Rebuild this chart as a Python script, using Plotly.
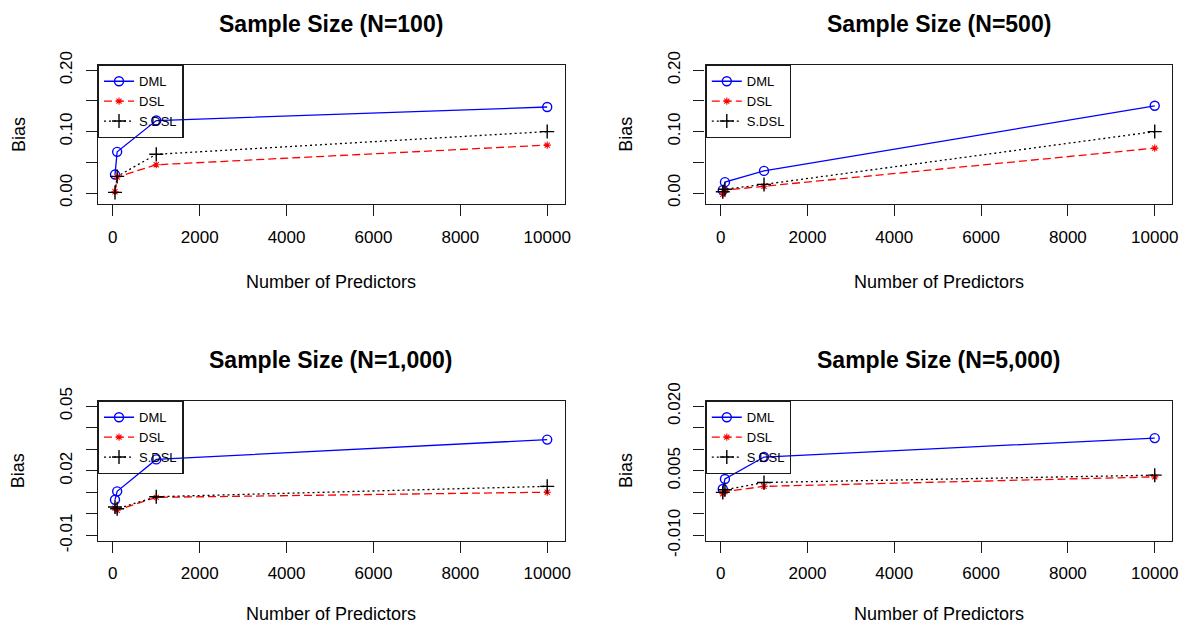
import plotly.graph_objects as go

# ---------------- data ----------------
predictors = [50, 100, 1000, 10000]

panel_titles = ["Sample Size (N=100)", "Sample Size (N=500)",
                "Sample Size (N=1,000)", "Sample Size (N=5,000)"]

dml_n100 = [0.030, 0.067, 0.118, 0.140]
dsl_n100 = [0.002, 0.026, 0.046, 0.078]
sdsl_n100 = [0.001, 0.027, 0.063, 0.100]

dml_n500 = [0.0046, 0.0177, 0.036, 0.142]
dsl_n500 = [-0.002, 0.0046, 0.011, 0.073]
sdsl_n500 = [0.002, 0.006, 0.014, 0.100]

dml_n1000 = [0.0066, 0.0105, 0.0253, 0.0345]
dsl_n1000 = [0.0027, 0.0017, 0.0077, 0.0101]
sdsl_n1000 = [0.0032, 0.0024, 0.0080, 0.0128]

dml_n5000 = [0.0008, 0.0031, 0.0082, 0.0126]
dsl_n5000 = [-0.0003, 0.0002, 0.0014, 0.0036]
sdsl_n5000 = [0.0000, 0.0006, 0.0023, 0.0040]

series_names = ["DML", "DSL", "S.DSL"]

x_tickvals = [0, 2000, 4000, 6000, 8000, 10000]
x_ticktext = ["0", "2000", "4000", "6000", "8000", "10000"]

y_tickvals_big = [0.0, 0.05, 0.10, 0.15, 0.20]
y_ticktext_big = ["0.00", "", "0.10", "", "0.20"]
y_tickvals_n1000 = [-0.01, 0.0, 0.01, 0.02, 0.03, 0.04, 0.05]
y_ticktext_n1000 = ["-0.01", "", "", "0.02", "", "", "0.05"]
y_tickvals_n5000 = [-0.010, -0.005, 0.0, 0.005, 0.010, 0.015, 0.020]
y_ticktext_n5000 = ["-0.010", "", "", "0.005", "", "", "0.020"]

ylims = [(-0.01, 0.20), (-0.01, 0.20), (-0.01, 0.05), (-0.01, 0.02)]
xlim = (50, 10000)

# ---------------- styling ----------------
W, H = 1179, 626
OFF = 0  # body margin removed by post_script
FONT = "Liberation Sans, Arial, Helvetica, sans-serif"
BOX = "#1a1a1a"

def ext(lo, hi):
    d = (hi - lo) * 0.04
    return [lo - d, hi + d]

def px(v):
    return (v - OFF) / W

def py(v):
    return 1 - (v - OFF) / H

# pixel boxes in page coordinates (left, right, top, bottom)
boxes = [(97.7, 564.5, 65.0, 204.3), (705.5, 1172.0, 65.0, 204.3),
         (97.7, 564.5, 401.0, 540.7), (705.5, 1172.0, 401.0, 540.7)]

panels = [
    (dml_n100, dsl_n100, sdsl_n100, y_tickvals_big, y_ticktext_big),
    (dml_n500, dsl_n500, sdsl_n500, y_tickvals_big, y_ticktext_big),
    (dml_n1000, dsl_n1000, sdsl_n1000, y_tickvals_n1000, y_ticktext_n1000),
    (dml_n5000, dsl_n5000, sdsl_n5000, y_tickvals_n5000, y_ticktext_n5000),
]

styles = [
    dict(color="#0000FF", dash="solid", symbol="circle-open", size=9, lw=1.4),
    dict(color="#FF0000", dash="8px,4px", symbol="asterisk-open", size=6, lw=1.1),
    dict(color="#000000", dash="2px,3px", symbol="cross-thin-open", size=10, lw=1.4),
]

fig = go.Figure()
annotations = []
layout = dict(
    width=W, height=H,
    margin=dict(l=0, r=0, t=0, b=0, pad=0, autoexpand=False),
    paper_bgcolor="white", plot_bgcolor="white",
    font=dict(family=FONT, color="black"),
    showlegend=True,
)

for i, (dml, dsl, sdsl, ytv, ytt) in enumerate(panels):
    k = "" if i == 0 else str(i + 1)
    leg = "legend" if i == 0 else "legend" + str(i + 1)
    left, right, top, bottom = boxes[i]
    for j, vals in enumerate([dml, dsl, sdsl]):
        st = styles[j]
        fig.add_trace(go.Scatter(
            x=predictors, y=vals, mode="lines+markers", name=series_names[j],
            xaxis="x" + k, yaxis="y" + k, legend=leg,
            line=dict(color=st["color"], width=1.3, dash=st["dash"]),
            marker=dict(symbol=st["symbol"], size=st["size"], color=st["color"],
                        line=dict(width=st["lw"], color=st["color"])),
            cliponaxis=False,
        ))
    axcommon = dict(showline=True, mirror=True, linecolor=BOX, linewidth=1.3,
                    ticks="outside", ticklen=11, tickwidth=1.3, tickcolor=BOX,
                    showgrid=False, zeroline=False, automargin=False,
                    tickfont=dict(family=FONT, size=17, color="black"))
    layout["xaxis" + k] = dict(
        axcommon, domain=[px(left), px(right)], anchor="y" + k,
        range=ext(*xlim), tickmode="array", tickvals=x_tickvals, ticktext=x_ticktext,
        ticklabelstandoff=6,
    )
    layout["yaxis" + k] = dict(
        axcommon, domain=[py(bottom), py(top)], anchor="x" + k,
        range=ext(*ylims[i]), tickmode="array", tickvals=ytv, ticktext=ytt,
        tickangle=-90, ticklabelstandoff=7,
    )
    layout[leg] = dict(
        x=px(left), y=py(top), xanchor="left", yanchor="top",
        bordercolor=BOX, borderwidth=1.3, bgcolor="rgba(255,255,255,0)",
        font=dict(family=FONT, size=13, color="black"),
        traceorder="normal", itemwidth=30,
    )
    cx = (left + right) / 2
    cy = (top + bottom) / 2
    annotations.append(dict(text="<b>" + panel_titles[i] + "</b>", x=px(cx),
                            y=py(top - 41), xref="paper", yref="paper",
                            showarrow=False, xanchor="center", yanchor="middle",
                            font=dict(family=FONT, size=23, color="black")))
    xt_center = min(bottom + 77.4, H - 12)
    annotations.append(dict(text="Number of Predictors", x=px(cx),
                            y=py(xt_center), xref="paper", yref="paper",
                            showarrow=False, xanchor="center", yanchor="middle",
                            font=dict(family=FONT, size=18, color="black")))
    annotations.append(dict(text="Bias", x=px(left - 79.4), y=py(cy),
                            xref="paper", yref="paper", textangle=-90,
                            showarrow=False, xanchor="center", yanchor="middle",
                            font=dict(family=FONT, size=18, color="black")))

layout["annotations"] = annotations
fig.update_layout(**layout)
fig.write_html(
    "out.html",
    config={"displayModeBar": False},
    post_script=("document.body.style.margin='0';"
                 "document.body.style.overflow='hidden';"
                 "document.documentElement.style.overflow='hidden';"),
)
